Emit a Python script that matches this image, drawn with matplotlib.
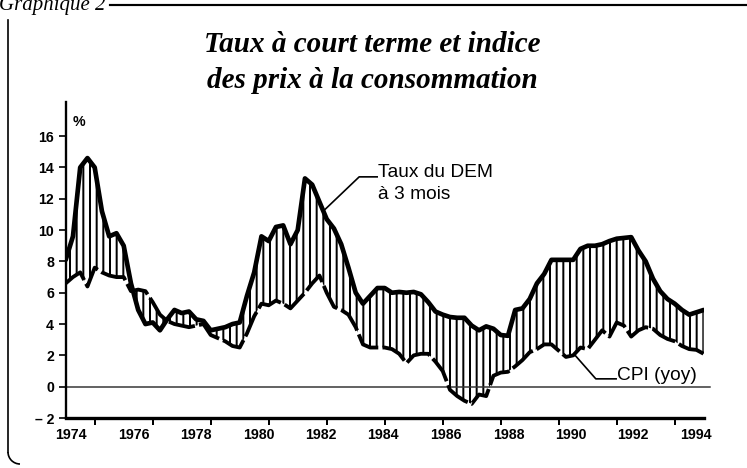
import numpy as np
import matplotlib
matplotlib.use("Agg")
import matplotlib.pyplot as plt
from matplotlib.lines import Line2D
from matplotlib.patches import Arc

# ---------------- data (quarterly) ----------------
years = np.arange(1973.0, 1995.01, 0.25)

dem_3m = [8.1, 9.6, 14.0, 14.6, 14.0, 11.2, 9.6, 9.8,
          9.0, 6.6, 4.9, 4.0, 4.1, 3.6, 4.3, 4.9,
          4.7, 4.8, 4.3, 4.2, 3.6, 3.7, 3.8, 4.0,
          4.1, 5.8, 7.3, 9.6, 9.3, 10.2, 10.3, 9.1,
          10.0, 13.3, 12.9, 11.8, 10.7, 10.1, 9.1, 7.6,
          6.0, 5.3, 5.8, 6.3, 6.3, 6.0, 6.05, 6.0,
          6.05, 5.9, 5.4, 4.8, 4.6, 4.45, 4.4, 4.4,
          3.9, 3.6, 3.85, 3.7, 3.3, 3.25, 4.9, 5.0,
          5.6, 6.6, 7.2, 8.1, 8.1, 8.1, 8.1, 8.8,
          9.0, 9.0, 9.1, 9.3, 9.45, 9.5, 9.55, 8.7,
          8.0, 6.9, 6.1, 5.6, 5.3, 4.9, 4.6, 4.75,
          4.9]

cpi_yoy = [6.6, 7.0, 7.3, 6.4, 7.6, 7.3, 7.1, 7.0,
           7.0, 6.1, 6.2, 6.1, 5.4, 4.6, 4.2, 4.0,
           3.9, 3.8, 3.9, 4.0, 3.3, 3.1, 2.9, 2.6,
           2.5, 3.4, 4.5, 5.3, 5.2, 5.5, 5.3, 5.0,
           5.5, 6.0, 6.6, 7.1, 6.0, 5.1, 4.9, 4.6,
           3.8, 2.7, 2.5, 2.5, 2.5, 2.4, 2.1, 1.5,
           2.0, 2.1, 2.1, 1.6, 1.0, -0.2, -0.6, -0.9,
           -1.1, -0.5, -0.6, 0.7, 0.9, 0.95, 1.3, 1.7,
           2.2, 2.4, 2.7, 2.7, 2.3, 1.9, 2.0, 2.5,
           2.4, 3.0, 3.6, 3.2, 4.1, 3.9, 3.2, 3.6,
           3.8, 3.7, 3.3, 3.05, 2.9, 2.6, 2.4, 2.35,
           2.1]

x_tick_years = [1974, 1976, 1978, 1980, 1982, 1984, 1986, 1988, 1990, 1992, 1994]
x_tick_labels = [str(y) for y in x_tick_years]
y_ticks = [-2, 0, 2, 4, 6, 8, 10, 12, 14, 16]
y_tick_labels = ["\u2013 2", "0", "2", "4", "6", "8", "10", "12", "14", "16"]

title_lines = ["Taux à court terme et indice", "des prix à la consommation"]
label_rate = ["Taux du DEM", "à 3 mois"]
label_cpi = "CPI (yoy)"

tick_font = dict(family="Liberation Sans", size=8.5, weight="bold")

# ---------------- figure ----------------
plt.rcParams["hatch.linewidth"] = 1.2
W, H = 747, 468
fig = plt.figure(figsize=(W / 120, H / 120), dpi=120)
fig.patch.set_facecolor("white")

def fx(px):
    return px / W

def fy(py):
    return 1 - py / H

ax = fig.add_axes([fx(65.7), fy(418), fx(703.7) - fx(65.7), fy(101.7) - fy(418)])
ax.set_xlim(1973.0, 1995.0)
ax.set_ylim(-2, 18.2)

# hatched band between the two series
ax.fill_between(years, dem_3m, cpi_yoy, facecolor="none", edgecolor="black",
                hatch="|||", linewidth=0)
ax.plot(years, dem_3m, color="black", lw=2.8, solid_joinstyle="round",
        solid_capstyle="round", zorder=3)
ax.plot(years, cpi_yoy, color="black", lw=2.3, dashes=(7, 1.1), zorder=3)
ax.axhline(0, color="#333333", lw=0.9, xmax=1.01, clip_on=False, zorder=1)

# spines
for s in ("top", "right"):
    ax.spines[s].set_visible(False)
ax.spines["left"].set_linewidth(1.4)
ax.spines["bottom"].set_linewidth(2.0)

ax.set_yticks(y_ticks)
ax.set_yticklabels(y_tick_labels, **tick_font)
ax.tick_params(axis="y", direction="out", length=4, width=1.0, pad=3)

# tick marks at the years, labels placed slightly apart as in the print
ax.set_xticks(x_tick_years)
ax.set_xticklabels([""] * len(x_tick_years))
ax.tick_params(axis="x", which="major", direction="out", length=4, width=1.2)
label_pos = [1973.18 + 2.155 * i for i in range(len(x_tick_years))]
ax.set_xticks(label_pos, minor=True)
ax.set_xticklabels(x_tick_labels, minor=True, **tick_font)
ax.tick_params(axis="x", which="minor", length=0, pad=6)

ax.text(1973.25, 16.9, "%", ha="left", va="center", family="Liberation Sans",
        size=8.5, weight="bold")

# annotations
ann_font = dict(family="Liberation Sans", size=11.5)
ax.plot([1981.92, 1983.12, 1983.74], [11.28, 13.4, 13.4], color="black", lw=1.0, zorder=4)
ax.text(1983.78, 13.4, label_rate[0], ha="left", va="baseline", **ann_font)
ax.text(1983.78, 11.98, label_rate[1], ha="left", va="baseline", **ann_font)
ax.plot([1990.52, 1991.28, 1991.98], [2.1, 0.5, 0.5], color="black", lw=1.0, zorder=4)
ax.text(1992.0, 0.43, label_cpi, ha="left", va="baseline", **ann_font)

# title
for i, line in enumerate(title_lines):
    fig.text(fx(372), fy(45 + 35 * i), line, ha="center", va="center",
             family="Liberation Serif", style="italic", weight="bold", size=17.5)

# frame of the printed box
fig.text(fx(-1), fy(10), "Graphique 2", ha="left", va="baseline",
         family="Liberation Serif", style="italic", size=12.5)
fig.add_artist(Line2D([fx(110), fx(747)], [fy(4.5), fy(4.5)], color="black", lw=1.3))
fig.add_artist(Line2D([fx(8), fx(8)], [fy(20), fy(452)], color="black", lw=1.0))
arc = Arc((fx(20), fy(452)), 2 * 12 / W, 2 * 12 / H, theta1=180, theta2=270,
          transform=fig.transFigure, color="black", lw=1.0)
fig.add_artist(arc)

fig.savefig("out.png", dpi=120, facecolor="white")
